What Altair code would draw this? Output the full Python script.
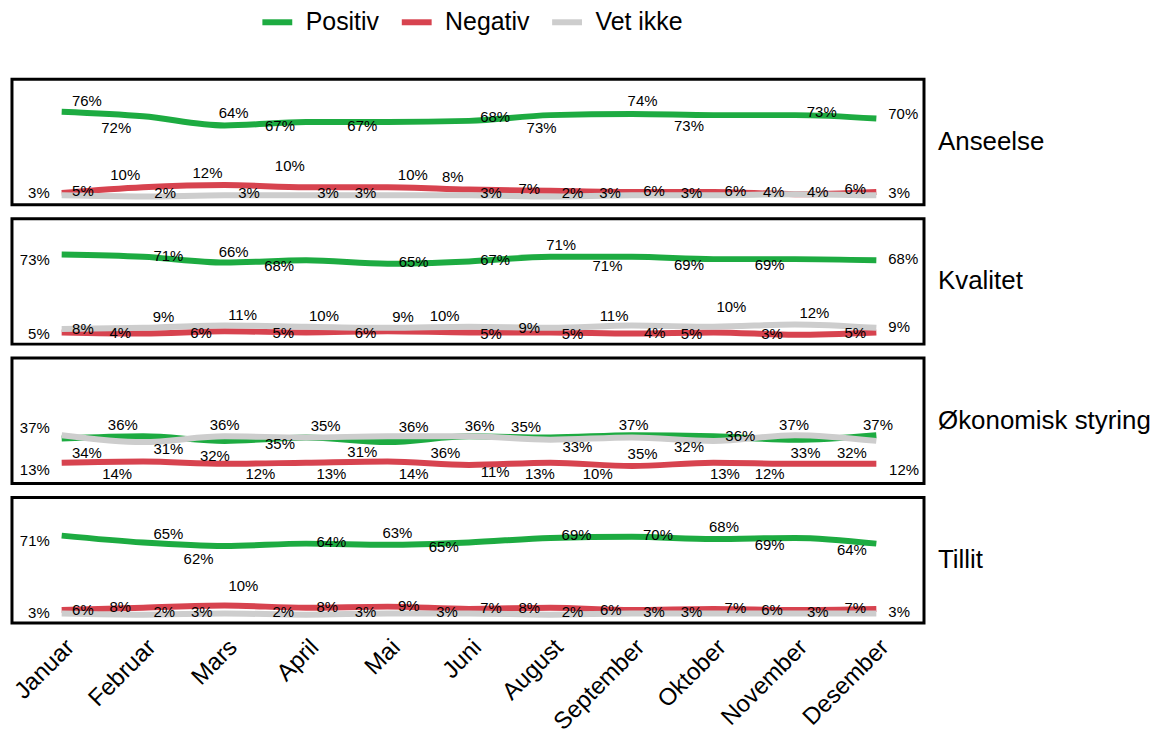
import altair as alt
import pandas as pd

months = ["Januar", "Februar", "Mars", "April", "Mai", "Juni", "August",
          "September", "Oktober", "November", "Desember"]
panels = ["Anseelse", "Kvalitet", "Økonomisk styring", "Tillit"]
series = ["Positiv", "Negativ", "Vet ikke"]
colors = ["#1DAB41", "#D7434F", "#CDCDCD"]

# line values per panel (Positiv, Negativ, Vet ikke)
anseelse_pos = [76, 72, 64, 67, 67, 68, 73, 74, 73, 73, 70]
anseelse_neg = [5, 10, 12, 10, 10, 8, 7, 6, 6, 4, 6]
anseelse_vet = [3, 2, 3, 3, 3, 3, 2, 3, 3, 4, 3]
kvalitet_pos = [73, 71, 66, 68, 65, 67, 71, 71, 69, 69, 68]
kvalitet_neg = [5, 4, 6, 5, 6, 5, 5, 4, 5, 3, 5]
kvalitet_vet = [8, 9, 11, 10, 9, 10, 9, 11, 10, 12, 9]
okonomi_pos = [34, 36, 32, 35, 31, 36, 35, 37, 36, 33, 37]
okonomi_neg = [13, 14, 12, 13, 14, 11, 13, 10, 13, 12, 12]
okonomi_vet = [37, 31, 36, 35, 36, 36, 33, 35, 32, 37, 32]
tillit_pos = [71, 65, 62, 64, 63, 65, 69, 70, 68, 69, 64]
tillit_neg = [6, 8, 10, 8, 9, 7, 8, 6, 7, 6, 7]
tillit_vet = [3, 2, 3, 2, 3, 3, 2, 3, 3, 3, 3]

# value labels: month position, level on the % scale, value shown
anseelse_lab_x = [0.31, 0.67, 2.11, 2.68, 3.69, 5.32, 5.89, 7.13, 7.70, 9.33, 10.33,
                  0.78, 1.79, 2.80, 4.31, 4.80,
                  -0.28, 0.26, 1.27, 2.30, 3.27, 3.73, 5.27, 5.74, 6.27, 6.73, 7.27,
                  7.73, 8.27, 8.74, 9.28, 9.74, 10.28]
anseelse_lab_y = [85.2, 62.0, 75.0, 63.5, 63.5, 71.6, 61.5, 85.2, 63.7, 75.4, 73.7,
                  20.3, 22.9, 28.7, 20.3, 19.4,
                  5.0, 7.0, 5.0, 5.0, 5.0, 5.0, 5.0, 8.7, 5.0, 5.0, 7.2,
                  5.0, 7.2, 5.8, 6.3, 8.4, 5.0]
anseelse_lab_v = [76, 72, 64, 67, 67, 68, 73, 74, 73, 73, 70,
                  10, 12, 10, 10, 8,
                  3, 5, 2, 3, 3, 3, 3, 7, 2, 3, 6, 3, 6, 4, 4, 6, 3]

kvalitet_lab_x = [-0.33, 1.31, 2.11, 2.67, 4.32, 5.32, 6.13, 6.70, 7.70, 8.69, 10.33,
                  1.25, 2.22, 3.22, 4.19, 4.70, 6.78, 8.22, 9.24, 10.28,
                  -0.28, 0.26, 0.72, 1.71, 2.72, 3.73, 5.27, 5.74, 6.27, 7.28, 7.73,
                  8.72, 9.74]
kvalitet_lab_y = [68.0, 71.5, 75.2, 62.8, 66.5, 68.5, 81.6, 62.8, 63.7, 63.7, 69.4,
                  18.1, 20.2, 19.3, 18.1, 19.6, 19.6, 26.8, 21.6, 9.4,
                  3.7, 8.0, 4.2, 4.2, 4.2, 4.2, 3.7, 8.5, 3.7, 4.2, 3.7, 3.7, 4.2]
kvalitet_lab_v = [73, 71, 66, 68, 65, 67, 71, 71, 69, 69, 68,
                  9, 11, 10, 9, 10, 11, 10, 12, 9,
                  5, 8, 4, 6, 5, 6, 5, 9, 5, 4, 5, 3, 5]

okonomi_lab_x = [-0.33, 0.75, 2.00, 3.24, 4.32, 0.31, 1.31, 1.88, 2.68, 3.69, 4.71,
                 -0.33, 0.68, 2.44, 3.31, 4.32,
                 5.13, 5.70, 6.33, 7.02, 7.13, 7.70, 8.33, 8.99, 9.13, 9.70, 10.02,
                 5.32, 5.87, 6.58, 8.14, 8.69, 10.34]
okonomi_lab_y = [42.9, 45.8, 45.8, 45.0, 44.3, 21.7, 25.0, 19.1, 29.0, 22.0, 21.1,
                 6.7, 3.2, 3.2, 3.2, 3.2,
                 45.2, 44.3, 27.0, 45.8, 20.6, 26.3, 36.5, 45.8, 21.1, 21.1, 45.8,
                 5.2, 3.2, 3.2, 3.2, 3.2, 6.7]
okonomi_lab_v = [37, 36, 36, 35, 36, 34, 31, 32, 35, 31, 36,
                 13, 14, 12, 13, 14,
                 36, 35, 33, 37, 35, 32, 36, 37, 33, 32, 37,
                 11, 13, 10, 13, 12, 12]

tillit_lab_x = [-0.33, 1.31, 1.68, 3.31, 4.12, 4.69, 6.32, 7.32, 8.13, 8.69, 9.70,
                2.23,
                -0.28, 0.26, 0.72, 1.26, 1.72, 2.72, 3.26, 3.73, 4.26, 4.73, 5.27,
                5.74, 6.27, 6.74, 7.27, 7.73, 8.27, 8.72, 9.28, 9.74, 10.28]
tillit_lab_y = [66.1, 72.8, 50.7, 65.2, 73.3, 61.1, 71.3, 71.3, 78.3, 63.2, 58.3,
                27.0,
                3.7, 5.8, 9.0, 4.3, 4.3, 4.3, 8.7, 4.3, 9.6, 4.3, 7.6,
                8.1, 4.3, 5.8, 4.3, 4.3, 7.6, 5.8, 4.3, 7.6, 4.3]
tillit_lab_v = [71, 65, 62, 64, 63, 65, 69, 70, 68, 69, 64,
                10,
                3, 6, 8, 2, 3, 2, 8, 3, 9, 3, 7, 8, 2, 6, 3, 3, 7, 6, 3, 7, 3]

line_sets = {
    "Anseelse": [anseelse_pos, anseelse_neg, anseelse_vet],
    "Kvalitet": [kvalitet_pos, kvalitet_neg, kvalitet_vet],
    "Økonomisk styring": [okonomi_pos, okonomi_neg, okonomi_vet],
    "Tillit": [tillit_pos, tillit_neg, tillit_vet],
}
label_sets = {
    "Anseelse": (anseelse_lab_x, anseelse_lab_y, anseelse_lab_v),
    "Kvalitet": (kvalitet_lab_x, kvalitet_lab_y, kvalitet_lab_v),
    "Økonomisk styring": (okonomi_lab_x, okonomi_lab_y, okonomi_lab_v),
    "Tillit": (tillit_lab_x, tillit_lab_y, tillit_lab_v),
}

rows = []
for p in panels:
    for si, s in enumerate(series):
        for mi, v in enumerate(line_sets[p][si]):
            rows.append({"panel": p, "kind": "line", "series": s,
                         "x": mi, "y": v, "text": ""})
    lx, ly, lv = label_sets[p]
    for x, y, v in zip(lx, ly, lv):
        rows.append({"panel": p, "kind": "label", "series": "",
                     "x": x, "y": y, "text": f"{v}%"})
df = pd.DataFrame(rows)

FONT = "Liberation Sans"
label_expr = "[" + ",".join(f"'{m}'" for m in months) + "][datum.value]"

x_enc = alt.X("x:Q",
              scale=alt.Scale(domain=[-0.61, 10.585], nice=False, zero=False),
              axis=alt.Axis(values=list(range(len(months))), labelExpr=label_expr,
                            title=None, grid=False, ticks=False, domain=False,
                            labelAngle=-45, labelAlign="right", labelBaseline="top",
                            labelPadding=6, labelFontSize=24, labelFont=FONT,
                            labelColor="black", labelOverlap=False, labelBound=False,
                            labelFlush=False))
y_enc = alt.Y("y:Q", scale=alt.Scale(domain=[-5.2, 104.3], nice=False, zero=False),
              axis=None)

base = alt.Chart()

lines = base.transform_filter(alt.datum.kind == "line").mark_line(
    strokeWidth=6, interpolate="monotone"
).encode(
    x=x_enc, y=y_enc,
    color=alt.Color("series:N",
                    scale=alt.Scale(domain=series, range=colors),
                    sort=series,
                    legend=alt.Legend(orient="none", legendX=254, legendY=-70,
                                      direction="horizontal", title=None,
                                      padding=0,
                                      symbolType="M-2,0H2", symbolStrokeWidth=6,
                                      symbolSize=225, labelFontSize=25,
                                      labelFont=FONT, labelColor="black",
                                      labelOffset=16, columnPadding=10)),
    detail="series:N",
)

texts = base.transform_filter(alt.datum.kind == "label").mark_text(
    font=FONT, fontSize=15, color="black", baseline="middle", align="center"
).encode(x=x_enc, y=y_enc, text="text:N")

chart = alt.layer(lines, texts, data=df).properties(
    width=916, height=126
).facet(
    row=alt.Row("panel:N", sort=panels, title=None,
                header=alt.Header(labelOrient="right", labelAngle=0,
                                  labelAlign="right", labelBaseline="middle",
                                  labelFontSize=26, labelFont=FONT,
                                  labelColor="black", labelPadding=12)),
    spacing=6,
).properties(
    padding={"left": 2, "top": 0, "right": 2, "bottom": 0},
    background="white",
).configure_view(
    stroke="black", strokeWidth=3
)

chart.save("out.html", embed_options={"renderer": "svg", "actions": False})
